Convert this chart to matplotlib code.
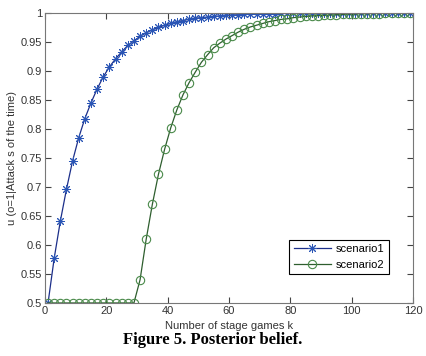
import numpy as np
import matplotlib
matplotlib.use('Agg')
import matplotlib.pyplot as plt

plt.rcParams['font.family'] = ['Liberation Sans', 'DejaVu Sans']

k = np.arange(1, 120, 2)

scenario1 = [0.5, 0.577, 0.641, 0.696, 0.745, 0.785, 0.818, 0.845, 0.869, 0.890,
             0.907, 0.921, 0.933, 0.944, 0.952, 0.960, 0.966, 0.971, 0.975, 0.979,
             0.982, 0.985, 0.987, 0.989, 0.991, 0.992, 0.993, 0.994, 0.995, 0.996,
             0.9965, 0.997, 0.9975, 0.998, 0.9983, 0.9986, 0.9988, 0.999, 0.9992, 0.9993,
             0.9994, 0.9995, 0.9996, 0.9996, 0.9997, 0.9997, 0.9998, 0.9998, 0.9998, 0.9999,
             0.9999, 0.9999, 0.9999, 0.9999, 1.0, 1.0, 1.0, 1.0, 1.0, 1.0]

scenario2 = [0.5, 0.5, 0.5, 0.5, 0.5, 0.5, 0.5, 0.5, 0.5, 0.5,
             0.5, 0.5, 0.5, 0.5, 0.5, 0.540, 0.610, 0.670, 0.722, 0.765,
             0.802, 0.833, 0.859, 0.880, 0.898, 0.915, 0.928, 0.940, 0.948, 0.955,
             0.961, 0.967, 0.972, 0.976, 0.979, 0.982, 0.985, 0.987, 0.989, 0.990,
             0.992, 0.993, 0.994, 0.995, 0.9955, 0.996, 0.9965, 0.997, 0.9975, 0.998,
             0.9983, 0.9986, 0.9988, 0.999, 0.9991, 0.9992, 0.9993, 0.9994, 0.9995, 0.9996]

xticks = [0, 20, 40, 60, 80, 100, 120]
yticks = [0.5, 0.55, 0.6, 0.65, 0.7, 0.75, 0.8, 0.85, 0.9, 0.95, 1]
ytick_labels = ['0.5', '0.55', '0.6', '0.65', '0.7', '0.75', '0.8', '0.85', '0.9', '0.95', '1']

fig = plt.figure(figsize=(4.26, 3.56), dpi=100)
ax = fig.add_axes([0.1056, 0.149, 0.864, 0.8145])

# matlab style asterisk = 8 arm marker
ax.plot(k, scenario1, '-', color='#1c2f8a', lw=0.9, marker=(8, 2, 0), markersize=6.5,
        markeredgecolor='#2a55b5', markeredgewidth=0.7, label='scenario1')
ax.plot(k, scenario2, '-', color='#2e5e2e', lw=0.9, marker='o', markersize=6,
        markeredgecolor='#4a8a4a', markerfacecolor='none', markeredgewidth=0.8, label='scenario2')

ax.set_xlim(0, 120)
ax.set_ylim(0.5, 1)
ax.set_xticks(xticks)
ax.set_yticks(yticks)
ax.set_yticklabels(ytick_labels)
ax.tick_params(direction='in', length=4, labelsize=8, top=True, right=True, pad=2,
               color='#444444', labelcolor='#333333')
for s in ax.spines.values():
    s.set_color('#777777')
    s.set_linewidth(0.8)

ax.set_xlabel('Number of stage games k', fontsize=8, color='#333333', labelpad=4)
ax.set_ylabel('u (o=1|Attack s of the time)', fontsize=8, color='#333333', labelpad=3)

leg = ax.legend(loc='lower right', bbox_to_anchor=(0.935, 0.1), borderaxespad=0, fontsize=8,
                handlelength=3.3, fancybox=False, framealpha=1, edgecolor='black',
                borderpad=0.4, labelspacing=0.5, handletextpad=0.5)
leg.get_frame().set_linewidth(0.8)

fig.text(0.5, 0.045, 'Figure 5. Posterior belief.', ha='center', va='center',
         fontsize=12, fontweight='bold', family='Liberation Serif')

fig.savefig('out.png', dpi=100)
